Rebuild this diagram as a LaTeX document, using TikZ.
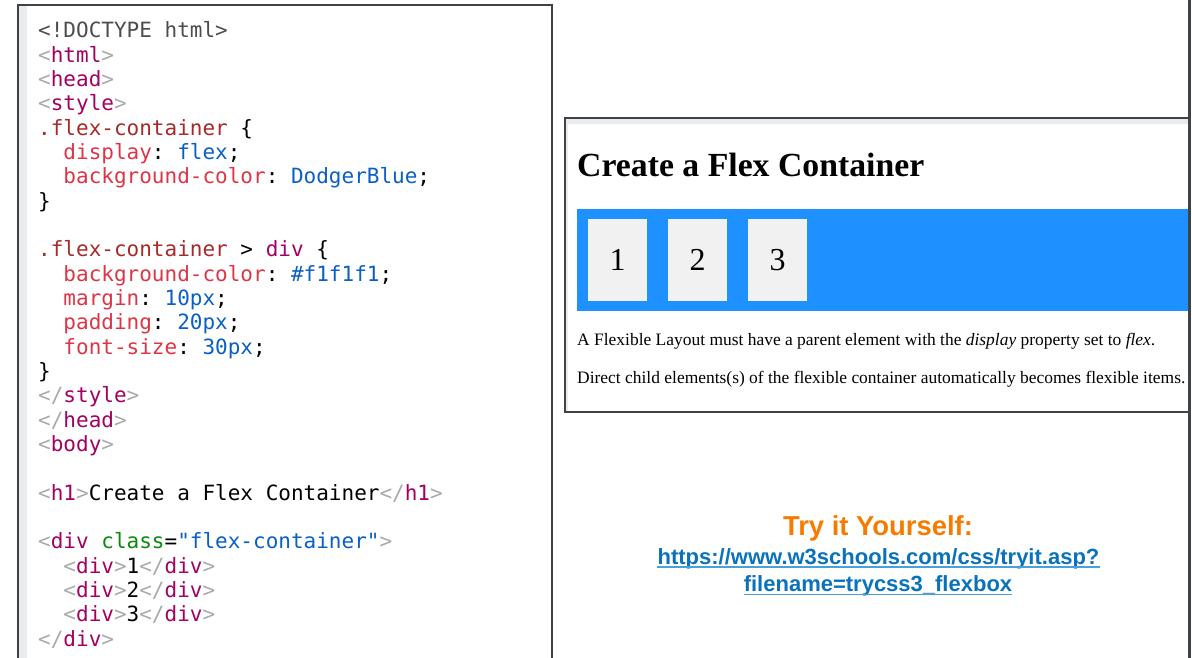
\documentclass[tikz,border=0pt]{standalone}
\usepackage{fontspec}
\usetikzlibrary{positioning}
\setmainfont{Liberation Serif}
\setsansfont{Liberation Sans}
\setmonofont{DejaVu Sans Mono}
\definecolor{tagc}{HTML}{A9A9A9}
\definecolor{namec}{HTML}{A30060}
\definecolor{selc}{HTML}{A52A2A}
\definecolor{propc}{HTML}{DC3545}
\definecolor{valc}{HTML}{0A5FC4}
\definecolor{attrc}{HTML}{0A8A0A}
\definecolor{frame}{HTML}{404346}
\definecolor{strip}{HTML}{E9EBEC}
\definecolor{flexblue}{HTML}{1E90FF}
\definecolor{itemgray}{HTML}{F1F1F1}
\definecolor{tryorange}{HTML}{F57C00}
\definecolor{linkblue}{HTML}{0A72BA}
\definecolor{linkline}{HTML}{4AA0D8}
\newcommand{\tg}[1]{\textcolor{tagc}{#1}}
\newcommand{\nm}[1]{\textcolor{namec}{#1}}
\newcommand{\sel}[1]{\textcolor{selc}{#1}}
\newcommand{\prp}[1]{\textcolor{propc}{#1}}
\newcommand{\vl}[1]{\textcolor{valc}{#1}}
\tikzset{
  code/.style={anchor=base west,inner sep=0pt,font=\ttfamily\fontsize{21}{21}\selectfont},
  item/.style={fill=itemgray,minimum width=59,minimum height=82,inner sep=0pt,font=\fontsize{32}{32}\selectfont},
  para/.style={anchor=base west,inner sep=0pt,font=\fontsize{17.45}{17.45}\selectfont},
  link/.style={anchor=base,inner sep=0pt,text=linkblue,font=\sffamily\bfseries\fontsize{22}{22}\selectfont}
}
\begin{document}
\begin{tikzpicture}[x=1pt,y=-1pt]
\useasboundingbox (0,0) rectangle (1192,658);
% code panel
\fill[strip] (19,6) rectangle (27,658);
\draw[frame,line width=1.1] (18,658) |- (552,5) -- (552,658);
\node[code] (l0) at (38,37.8) {\textcolor{black!70}{<!DOCTYPE html>}};
\node[code] (l1) at (38,62.1) {\tg{<}\nm{html}\tg{>}};
\node[code] (l2) at (38,86.4) {\tg{<}\nm{head}\tg{>}};
\node[code] (l3) at (38,110.8) {\tg{<}\nm{style}\tg{>}};
\node[code] (l4) at (38,135.1) {\sel{.flex-container} \{};
\node[code] (l5) at (38,159.4) {\ \ \prp{display}: \vl{flex};};
\node[code] (l6) at (38,183.8) {\ \ \prp{background-color}: \vl{DodgerBlue};};
\node[code] (l7) at (38,208.1) {\}};
\node[code] (l9) at (38,256.8) {\sel{.flex-container} > \nm{div} \{};
\node[code] (l10) at (38,281.1) {\ \ \prp{background-color}: \vl{\#f1f1f1};};
\node[code] (l11) at (38,305.4) {\ \ \prp{margin}: \vl{10px};};
\node[code] (l12) at (38,329.8) {\ \ \prp{padding}: \vl{20px};};
\node[code] (l13) at (38,354.1) {\ \ \prp{font-size}: \vl{30px};};
\node[code] (l14) at (38,378.4) {\}};
\node[code] (l15) at (38,402.8) {\tg{</}\nm{style}\tg{>}};
\node[code] (l16) at (38,427.1) {\tg{</}\nm{head}\tg{>}};
\node[code] (l17) at (38,451.4) {\tg{<}\nm{body}\tg{>}};
\node[code] (l19) at (38,500.1) {\tg{<}\nm{h1}\tg{>}Create a Flex Container\tg{</}\nm{h1}\tg{>}};
\node[code] (l21) at (38,548.8) {\tg{<}\nm{div} \textcolor{attrc}{class}=\vl{"flex-container"}\tg{>}};
\node[code] (l22) at (38,573.1) {\ \ \tg{<}\nm{div}\tg{>}1\tg{</}\nm{div}\tg{>}};
\node[code] (l23) at (38,597.4) {\ \ \tg{<}\nm{div}\tg{>}2\tg{</}\nm{div}\tg{>}};
\node[code] (l24) at (38,621.8) {\ \ \tg{<}\nm{div}\tg{>}3\tg{</}\nm{div}\tg{>}};
\node[code] (l25) at (38,646.1) {\tg{</}\nm{div}\tg{>}};
% page preview
\fill[strip] (566,119) rectangle (1188,124);
\fill[strip] (566,119) rectangle (568,412);
\draw[frame,line width=1.1] (1188,118) -| (565,412) -- (1188,412);
\node[anchor=base west,inner sep=0pt,font=\bfseries\fontsize{33.75}{33.75}\selectfont] (title) at (577,176) {Create a Flex Container};
\fill[flexblue] (577,209) rectangle (1188,311);
\node[item] (i1) at (617.5,260) {1};
\node[item,right=20.7pt of i1] (i2) {2};
\node[item,right=20.7pt of i2] (i3) {3};
\node[para] (p1) at (577,345) {A Flexible Layout must have a parent element with the \textit{display} property set to \textit{flex}.};
\node[para] (p2) at (577,383) {Direct child elements(s) of the flexible container automatically becomes flexible items.};
% right edge
\fill[frame] (1188,0) rectangle (1191,658);
% try it
\node[anchor=base,inner sep=0pt,text=tryorange,font=\sffamily\bfseries\fontsize{27.4}{27.4}\selectfont] (try) at (878,535.5) {Try it Yourself:};
\node[link] (url1) at (878.5,564) {https://www.w3schools.com/css/tryit.asp?};
\node[link] (url2) at (878,591.3) {filename=trycss3\_flexbox};
\draw[linkline,line width=1.6] ([yshift=-3pt]url1.base west) -- ([yshift=-3pt]url1.base east);
\draw[linkline,line width=1.6] ([yshift=-3pt]url2.base west) -- ([yshift=-3pt]url2.base east);
\end{tikzpicture}
\end{document}
